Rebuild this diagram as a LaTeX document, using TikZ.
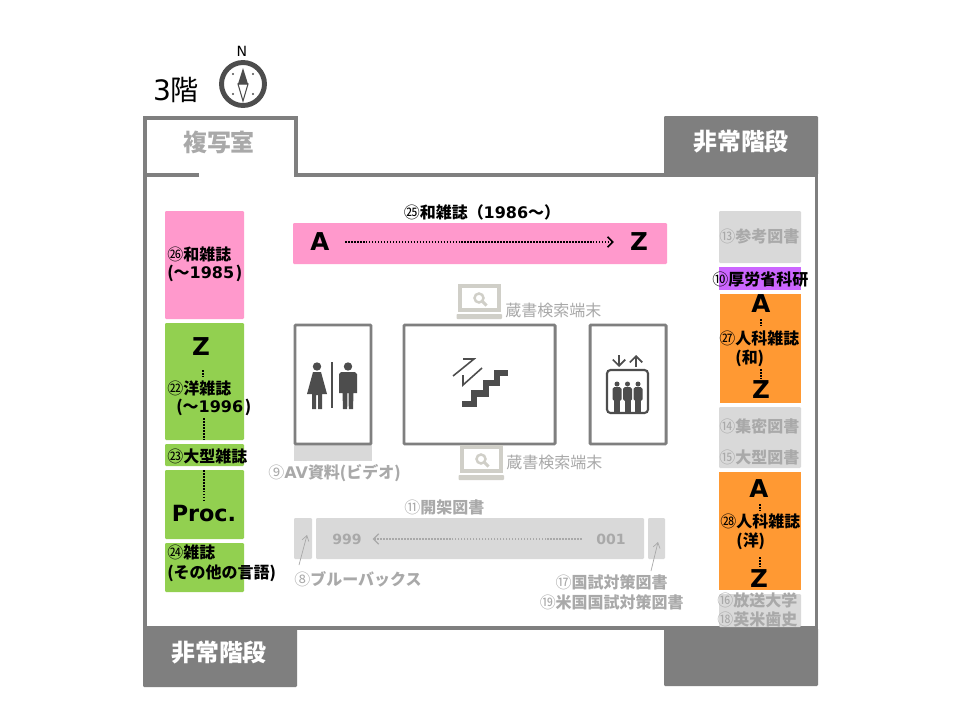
\documentclass[tikz,border=0pt]{standalone}
\usepackage{fontspec}
\setmainfont{Noto Sans CJK JP}
\newfontfamily\latfont{DejaVu Sans}
\usetikzlibrary{arrows.meta}
\definecolor{wallgray}{HTML}{7F7F7F}
\definecolor{shelfgray}{HTML}{D9D9D9}
\definecolor{textgray}{HTML}{A9A9A9}
\definecolor{icondark}{HTML}{4D4D4D}
\definecolor{laptopgray}{HTML}{D0CFC8}
\definecolor{pinkshelf}{HTML}{FF99CC}
\definecolor{greenshelf}{HTML}{92D050}
\definecolor{orangeshelf}{HTML}{FF9933}
\definecolor{purpleshelf}{HTML}{CC66FF}
\newcommand{\lat}[1]{{\latfont #1}}
\newcommand{\circnum}[1]{{\mdseries #1}}
\tikzset{
  x=0.02cm, y=-0.02cm,
  wall/.style={draw=wallgray, line width=1.8pt, line join=miter},
  room/.style={draw=wallgray, line width=1.7pt, fill=white, rounded corners=0.5pt},
  shelf/.style={rounded corners=0.6pt},
  blacklabel/.style={font=\fontsize{9.1}{11}\selectfont\bfseries, inner sep=0pt, text=black},
  graylabel/.style={blacklabel, text=textgray},
  termlabel/.style={font=\fontsize{9.1}{11}\selectfont, inner sep=0pt, text=textgray},
  stairlabel/.style={font=\fontsize{13.6}{16}\selectfont\bfseries, inner sep=0pt, text=white},
  letter/.style={font=\fontsize{14}{16}\selectfont\bfseries\latfont, inner sep=0pt, text=black},
  dotline/.style={line width=0.9pt, dash pattern=on 0.9pt off 0.8pt},
  thinarrow/.style={draw=textgray, line width=0.4pt, -{Straight Barb[length=3pt,width=4pt]}},
  pics/laptop/.style={code={
    \draw[draw=#1, line width=1.9pt] (-19,-12) rectangle (20,12);
    \fill[#1, rounded corners=0.5pt] (-22.5,16) rectangle (23,21);
    \draw[draw=#1, line width=1.4pt] (0,0) circle (4.5);
    \draw[draw=#1, line width=1.7pt] (3,3) -- (7.5,7.5);
  }},
}
\begin{document}
\begin{tikzpicture}
  \useasboundingbox (0,0) rectangle (960,720);
  \fill[white] (0,0) rectangle (960,720);

  % Walls
  \draw[wall] (199,175) -- (145,175) -- (145,628) -- (816.5,628) -- (816.5,175) -- (296,175) -- (296,118) -- (145,118) -- (145,175);
  \fill[wallgray, shelf] (664,116) rectangle (818,175);
  \fill[wallgray, shelf] (143,628) rectangle (297,687);
  \fill[wallgray, shelf] (664,628) rectangle (818,686);

  % Heading and compass
  \node[inner sep=0pt, font=\fontsize{16}{18}\selectfont] (floor) at (176,90) {\lat{3}階};
  \node[inner sep=0pt, font=\fontsize{8}{9}\selectfont\latfont] (north) at (242,51) {N};
  \draw[icondark, line width=2.8pt] (243,84) circle (21.5);
  \fill[icondark] (238,84) -- (243,68) -- (248,84) -- cycle;
  \draw[icondark, line width=0.6pt] (238,84) -- (243,101) -- (248,84) -- cycle;
  \foreach \dx/\dy in {233/74, 253/74, 233/94, 253/94}
    \fill[icondark] (\dx,\dy) circle (1.1);

  % Room names
  \node[stairlabel, text=textgray] (copyroom) at (219,142) {複写室};
  \node[stairlabel] (stairsne) at (741,142) {非常階段};
  \node[stairlabel] (stairssw) at (219,653) {非常階段};

  % Left shelves
  \fill[pinkshelf, shelf] (165,211) rectangle (244,319);
  \fill[greenshelf, shelf] (165,323) rectangle (244,440);
  \fill[greenshelf, shelf] (165,444) rectangle (244,466);
  \fill[greenshelf, shelf] (165,470) rectangle (244,539);
  \fill[greenshelf, shelf] (165,543) rectangle (244,592);

  % Right shelves
  \fill[shelfgray, shelf] (719,211) rectangle (801,263);
  \fill[purpleshelf] (719,267) rectangle (801,290);
  \fill[orangeshelf] (720,294) rectangle (801,403);
  \fill[shelfgray, shelf] (719,407) rectangle (801,468);
  \fill[orangeshelf] (719,472) rectangle (801,590);
  \fill[shelfgray, shelf] (719,594) rectangle (801,627);

  % Centre shelves
  \fill[pinkshelf, shelf] (293,223) rectangle (667,264);
  \fill[shelfgray] (294,444) rectangle (372,461);
  \fill[shelfgray, shelf] (294,518) rectangle (312,559);
  \fill[shelfgray, shelf] (316,518) rectangle (644,559);
  \fill[shelfgray, shelf] (648,518) rectangle (665,559);

  % Rooms
  \draw[room] (295,325) rectangle (371,444);
  \draw[room] (404,325) rectangle (555,444);
  \draw[room] (590,325) rectangle (666,444);

  % Restroom
  \draw[icondark, line width=1.3pt] (332,362) -- (332,408);
  \fill[icondark] (317,366.5) circle (4.2) (348,366.5) circle (4.2);
  \fill[icondark] (313,372) -- (321,372) -- (327,394) -- (322,394) -- (322,409) -- (318,409) -- (318,395) -- (316,395) -- (316,409) -- (312,409) -- (312,394) -- (307,394) -- cycle;
  \fill[icondark] (341,372) -- (355,372) -- (357,374) -- (357,393) -- (353.5,393) -- (353,409) -- (348.8,409) -- (348.5,393) -- (347.5,393) -- (347.2,409) -- (343,409) -- (342.5,393) -- (339,393) -- (339,374) -- cycle;

  % Stairs
  \draw[icondark, line width=3.6pt, line join=miter] (462,404) -- (474,404) -- (474,393.5) -- (486,393.5) -- (486,383) -- (497,383) -- (497,373) -- (508,373);
  \draw[icondark, line width=0.9pt] (453,376) -- (474,359) -- (463,359);
  \draw[icondark, line width=0.9pt] (482,368) -- (463,385) -- (463,375);

  % Elevator
  \draw[icondark, line width=1.2pt, rounded corners=2pt] (607,370) rectangle (648,413);
  \foreach \px in {617,627.5,638} {
    \fill[icondark] (\px,384) circle (2.5);
    \fill[icondark, rounded corners=1pt] (\px-4.5,387) rectangle (\px+4.5,401);
    \fill[icondark] (\px-3,400) rectangle (\px+3,412);
  }
  \draw[icondark, line width=1pt, -{Straight Barb[length=3.5pt,width=7pt]}] (619,355) -- (619,367);
  \draw[icondark, line width=1pt, -{Straight Barb[length=3.5pt,width=7pt]}] (636,367) -- (636,355);

  % Search terminals
  \pic at (479,298) {laptop=laptopgray};
  \pic at (481,459) {laptop=laptopgray};
  \node[termlabel, anchor=west] (termup) at (505,310) {蔵書検索端末};
  \node[termlabel, anchor=west] (termdown) at (506,462) {蔵書検索端末};

  % Magazines
  \node[blacklabel, anchor=center] (wa25) at (482,212) {\circnum{㉕}和雑誌（\lat{1986}～）};
  \node[letter] (wa25a) at (320,242) {A};
  \node[letter] (wa25z) at (639,242) {Z};
  \draw[dotline, -{Straight Barb[length=3pt,width=6pt]}] (wa25a) ++(25,0) -- ([xshift=-9pt]wa25z.west);

  \node[blacklabel, anchor=west] (wa26) at (167,254) {\circnum{㉖}和雑誌};
  \node[blacklabel, anchor=west] (wa26y) at (167,273) {(～\lat{1985}\hspace{1pt})};

  \node[letter] (yo22z) at (201,347) {Z};
  \node[blacklabel, anchor=west] (yo22) at (167,388) {\circnum{㉒}洋雑誌};
  \node[blacklabel, anchor=west] (yo22y) at (176,407) {(～\lat{1996}\hspace{1pt})};
  \draw[dotline] (203,370) -- (203,376);
  \draw[dotline] (204,418) -- (204,440);
  \node[blacklabel, anchor=west] (large23) at (167,456) {\circnum{㉓}大型雑誌};
  \draw[dotline] (204,470) -- (204,500);
  \node[letter, font=\fontsize{12.7}{16}\selectfont\bfseries\latfont] (proc) at (204,514) {Proc.};
  \node[blacklabel, anchor=west] (zas24) at (167,552) {\circnum{㉔}雑誌};
  \node[blacklabel, anchor=west] (zas24o) at (167,573) {(その他の言語)};

  % Right labels
  \node[graylabel, anchor=west] (ref13) at (719,236) {\circnum{⑬}参考図書};
  \node[blacklabel, anchor=west] (mhlw10) at (712,279) {\circnum{⑩}厚労省科研};
  \node[letter] (jin27a) at (761,304) {A};
  \draw[dotline] (761,319) -- (761,325);
  \node[blacklabel, anchor=west] (jin27) at (719,338) {\circnum{㉗}人科雑誌};
  \node[blacklabel, anchor=west] (jin27w) at (735,358) {(和)};
  \draw[dotline] (761,369) -- (761,378);
  \node[letter] (jin27z) at (761,390) {Z};
  \node[graylabel, anchor=west] (dense14) at (719,426) {\circnum{⑭}集密図書};
  \node[graylabel, anchor=west] (big15) at (719,457) {\circnum{⑮}大型図書};
  \node[letter] (jin28a) at (759,489) {A};
  \draw[dotline] (760,504) -- (760,510);
  \node[blacklabel, anchor=west] (jin28) at (720,521) {\circnum{㉘}人科雑誌};
  \node[blacklabel, anchor=west] (jin28y) at (736,541) {(洋)};
  \draw[dotline] (760,557) -- (760,566);
  \node[letter] (jin28z) at (759,579) {Z};
  \node[graylabel, anchor=west] (open16) at (717,600) {\circnum{⑯}放送大学};
  \node[graylabel, anchor=west] (hist18) at (717,619) {\circnum{⑱}英米歯史};

  % Open shelves
  \node[graylabel, anchor=west] (av9) at (268,473) {\circnum{⑨}\lat{AV}資料(ビデオ)};
  \node[graylabel, anchor=west] (open11) at (404,507) {\circnum{⑪}開架図書};
  \node[graylabel, font=\fontsize{8}{10}\selectfont\bfseries\latfont] (no999) at (347,539) {999};
  \node[graylabel, font=\fontsize{8}{10}\selectfont\bfseries\latfont] (no001) at (611,539) {001};
  \draw[draw=textgray, dotline, line width=0.7pt, -{Straight Barb[length=3pt,width=6pt]}] ([xshift=-8pt]no001.west) -- ([xshift=6pt]no999.east);
  \node[graylabel, anchor=west] (blue8) at (294,579) {\circnum{⑧}ブルーバックス};
  \node[graylabel, anchor=east] (exam17) at (668,582) {\circnum{⑰}国試対策図書};
  \node[graylabel, anchor=east] (exam19) at (684,602) {\circnum{⑲}米国国試対策図書};
  \coordinate (bluetip) at (307,535);
  \coordinate (examtip) at (658,542);
  \draw[thinarrow] (299,565) -- (bluetip);
  \draw[thinarrow] (651,571) -- (examtip);
\end{tikzpicture}
\end{document}
